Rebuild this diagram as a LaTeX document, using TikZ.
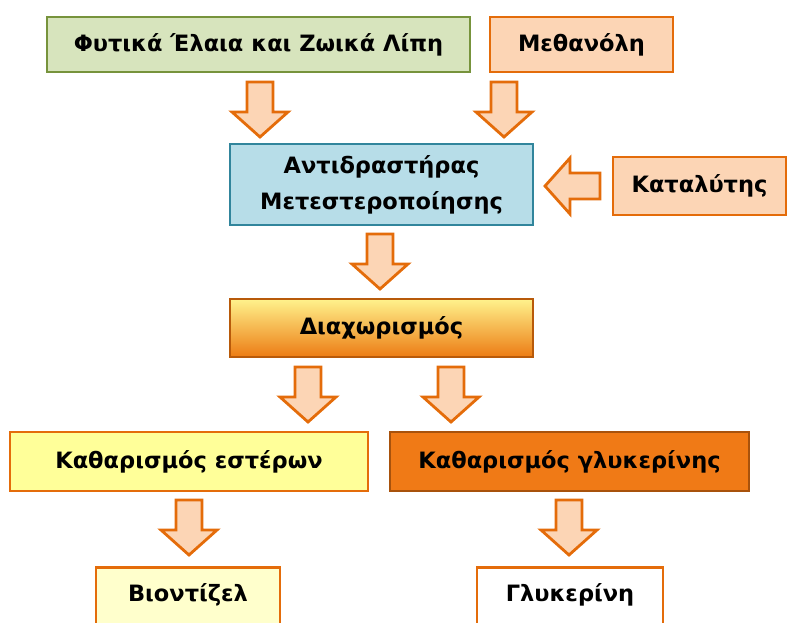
\documentclass[tikz,border=0pt]{standalone}
\usepackage{fontspec}
\setmainfont{DejaVu Sans}
\definecolor{grfill}{HTML}{D7E4BD}
\definecolor{grline}{HTML}{77933C}
\definecolor{pefill}{HTML}{FCD5B5}
\definecolor{orline}{HTML}{E46C0A}
\definecolor{blfill}{HTML}{B7DDE8}
\definecolor{blline}{HTML}{31859C}
\definecolor{sepline}{HTML}{B85A0A}
\definecolor{septop}{HTML}{FFF28C}
\definecolor{sepbot}{HTML}{EC7C14}
\definecolor{yelfill}{HTML}{FFFF99}
\definecolor{lyfill}{HTML}{FFFFCC}
\definecolor{glyfill}{HTML}{F07A16}
\definecolor{glyline}{HTML}{A8520C}
\tikzset{
  x=1pt,y=1pt,
  box/.style={draw, line width=2.8pt, inner sep=0pt, align=center,
     font=\fontsize{22.5}{36}\selectfont\bfseries},
  lowbox/.style={box, anchor=north, text height=34pt, text depth=36pt},
  blockarrow/.style={draw=orline, fill=pefill, line width=2.8pt, line join=miter},
  darr/.pic={\draw[blockarrow] (-13,27.5) -- (13,27.5) -- (13,-2.5) -- (28,-2.5)
       -- (0,-27.5) -- (-28,-2.5) -- (-13,-2.5) -- cycle;}
}
\begin{document}
\begin{tikzpicture}
\useasboundingbox (0,0) rectangle (791,-622);
\node[box, draw=grline, fill=grfill, minimum width=423, minimum height=55] (veg) at (258.5,-44.5) {Φυτικά Έλαια και Ζωικά Λίπη};
\node[box, draw=orline, fill=pefill, minimum width=183, minimum height=55] (meth) at (581.5,-44.5) {Μεθανόλη};
\node[box, draw=blline, fill=blfill, minimum width=303, minimum height=81] (reac) at (381.5,-184.5) {Αντιδραστήρας\\Μετεστεροποίησης};
\node[box, draw=orline, fill=pefill, minimum width=173, minimum height=58] (cat) at (699.5,-186) {Καταλύτης};
\node[box, draw=sepline, top color=septop, bottom color=sepbot, minimum width=303, minimum height=58] (sep) at (381.5,-328) {Διαχωρισμός};
\node[box, draw=orline, fill=yelfill, minimum width=358, minimum height=59] (est) at (189,-461.5) {Καθαρισμός εστέρων};
\node[box, draw=glyline, fill=glyfill, minimum width=359, minimum height=59] (gly) at (569.5,-461.5) {Καθαρισμός γλυκερίνης};
\node[lowbox, draw=orline, fill=lyfill, minimum width=184] (bio) at (188,-566) {Βιοντίζελ};
\node[lowbox, draw=orline, fill=white, minimum width=186] (glyc) at (570,-566) {Γλυκερίνη};
\pic at (260,-109.5) {darr};
\pic at (504,-109.5) {darr};
\pic[rotate=-90] at (572.5,-186) {darr};
\pic at (380,-261.5) {darr};
\pic at (308,-394.5) {darr};
\pic at (451,-394.5) {darr};
\pic at (189,-527.5) {darr};
\pic at (569,-527.5) {darr};
\end{tikzpicture}
\end{document}
